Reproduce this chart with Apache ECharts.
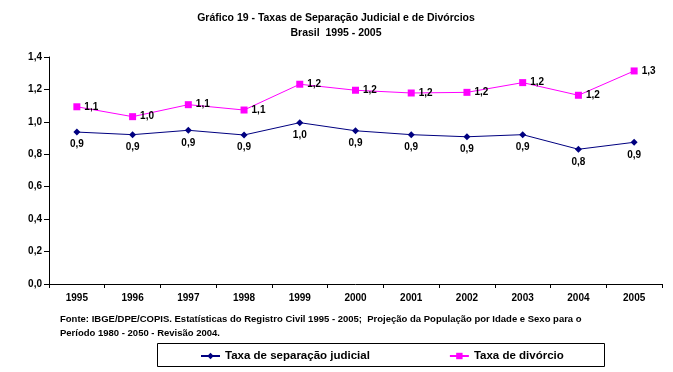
<!DOCTYPE html>
<html><head><meta charset="utf-8">
<script src="https://cdn.jsdelivr.net/npm/echarts@6/dist/echarts.min.js"></script>
<style>html,body{margin:0;padding:0;background:#fff}#c{width:673px;height:372px}</style>
</head><body><div id="c"></div>
<script>
var years = ['1995','1996','1997','1998','1999','2000','2001','2002','2003','2004','2005'];
var separacao = [0.937, 0.921, 0.948, 0.919, 0.995, 0.945, 0.921, 0.908, 0.921, 0.831, 0.874];
var divorcio = [1.093, 1.032, 1.106, 1.073, 1.232, 1.195, 1.178, 1.182, 1.242, 1.164, 1.314];
var yTicks = [0, 0.2, 0.4, 0.6, 0.8, 1.0, 1.2, 1.4];
var seriesNames = ['Taxa de separação judicial', 'Taxa de divórcio'];
var titleLine1 = 'Gráfico 19 - Taxas de Separação Judicial e de Divórcios';
var titleLine2 = 'Brasil  1995 - 2005';
var fonte1 = 'Fonte: IBGE/DPE/COPIS. Estatísticas do Registro Civil 1995 - 2005;  Projeção da População por Idade e Sexo para o';
var fonte2 = 'Período 1980 - 2050 - Revisão 2004.';

var FF = '"Liberation Sans", Arial, sans-serif';
function fmt(v){ return v.toFixed(1).replace('.', ','); }

var chart = echarts.init(document.getElementById('c'), null, {renderer:'canvas'});
chart.setOption({
  backgroundColor: '#ffffff',
  animation: false,
  textStyle: {fontFamily: FF},
  grid: {left: 49, right: 11, top: 57, bottom: 88, containLabel: false},
  xAxis: {
    type: 'category',
    data: years,
    boundaryGap: true,
    axisLine: {lineStyle: {color: '#000', width: 1}},
    axisTick: {show: true, length: 4, lineStyle: {color: '#000'}},
    axisLabel: {color: '#000', fontFamily: FF, fontSize: 10, fontWeight: 'bold', margin: 9}
  },
  yAxis: {
    type: 'value',
    min: yTicks[0], max: yTicks[yTicks.length-1], interval: 0.2,
    splitLine: {show: false},
    axisLine: {show: true, lineStyle: {color: '#000', width: 1}},
    axisTick: {show: true, length: 5, lineStyle: {color: '#000'}},
    axisLabel: {color: '#000', fontFamily: FF, fontSize: 10, fontWeight: 'bold', margin: 7, formatter: fmt}
  },
  legend: {
    left: 200, top: 350, padding: 0,
    itemGap: 79,
    itemWidth: 19, itemHeight: 8,
    textStyle: {fontFamily: FF, fontSize: 11.5, fontWeight: 'bold', color: '#000'},
    data: seriesNames
  },
  graphic: [
    {type: 'rect', shape: {x: 157.5, y: 343.5, width: 447, height: 23}, style: {fill: 'none', stroke: '#000', lineWidth: 1}, z: 10},
    {type: 'text', x: 336, y: 13, style: {text: titleLine1, font: 'bold 10.5px ' + FF, fill: '#000', textAlign: 'center'}},
    {type: 'text', x: 336, y: 28, style: {text: titleLine2, font: 'bold 10.5px ' + FF, fill: '#000', textAlign: 'center'}},
    {type: 'text', x: 60, y: 314, style: {text: fonte1, font: 'bold 9.5px ' + FF, fill: '#000'}},
    {type: 'text', x: 60, y: 328, style: {text: fonte2, font: 'bold 9.5px ' + FF, fill: '#000'}}
  ],
  series: [
    {
      name: seriesNames[0], type: 'line', data: separacao,
      symbol: 'diamond', symbolSize: 7,
      itemStyle: {color: '#000080'},
      lineStyle: {color: '#000080', width: 1},
      label: {show: true, position: 'bottom', distance: 4, color: '#000', fontFamily: FF, fontSize: 10, fontWeight: 'bold',
        formatter: function(p){ return fmt(p.value); }}
    },
    {
      name: seriesNames[1], type: 'line', data: divorcio,
      symbol: 'rect', symbolSize: 7,
      itemStyle: {color: '#ff00ff'},
      lineStyle: {color: '#ff00ff', width: 1},
      label: {show: true, position: 'right', distance: 4, color: '#000', fontFamily: FF, fontSize: 10, fontWeight: 'bold',
        formatter: function(p){ return fmt(p.value); }}
    }
  ]
});
</script></body></html>
